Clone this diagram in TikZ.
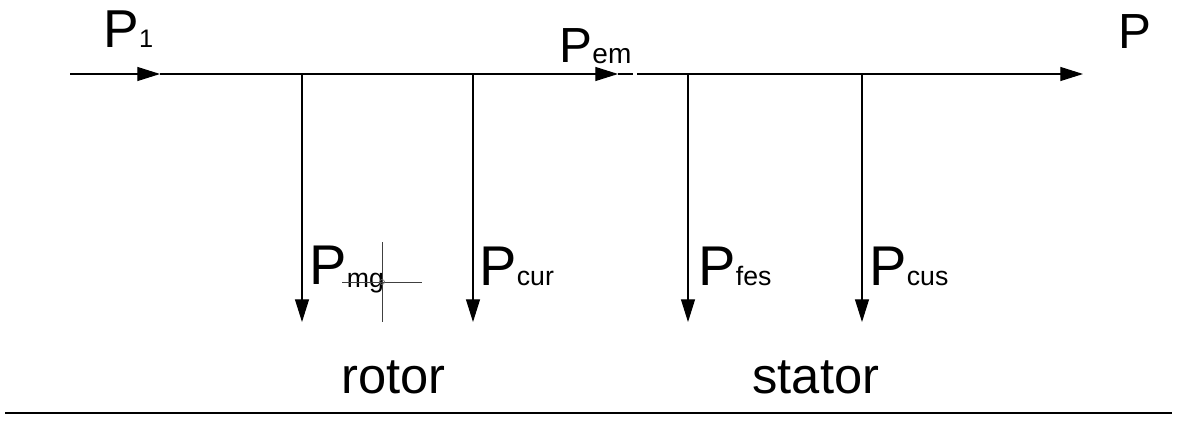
\documentclass[tikz,border=0pt]{standalone}
\usepackage{fontspec}
\setmainfont{Liberation Sans}
\usetikzlibrary{arrows.meta}
\newcommand{\pwr}[4][0pt]{{\fontsize{#2}{#2}\selectfont P}\raisebox{-#1}{\fontsize{#3}{#3}\selectfont #4}}

\begin{document}
\begin{tikzpicture}[x=0.75pt, y=-0.75pt, line width=0.8pt,
  flow/.style={-{Triangle[length=17pt, width=10.5pt]}},
  lbl/.style={anchor=base west, inner sep=0pt, text=black},
  word/.style={anchor=base west, inner sep=0pt, font=\fontsize{38}{38}\selectfont}]
  \useasboundingbox (0,0) rectangle (1177,421);
  % main power line
  \coordinate (in) at (70,74);
  \coordinate (a1) at (160,74);
  \coordinate (a2) at (618,74);
  \coordinate (j) at (633,74);
  \coordinate (k) at (637,74);
  \coordinate (out) at (1083,74);
  \draw[flow] (in) -- (a1);
  \draw[flow] (a1) -- (a2);
  \draw (a2) -- (j);
  \draw[flow] (k) -- (out);
  % losses
  \coordinate (t1) at (302,74);  \coordinate (e1) at (302,322);
  \coordinate (t2) at (473,74);  \coordinate (e2) at (473,322);
  \coordinate (t3) at (688,74);  \coordinate (e3) at (688,322);
  \coordinate (t4) at (862,74);  \coordinate (e4) at (862,322);
  \draw[flow] (t1) -- (e1);
  \draw[flow] (t2) -- (e2);
  \draw[flow] (t3) -- (e3);
  \draw[flow] (t4) -- (e4);
  % labels
  \node[lbl] (p1) at (103,47) {\pwr{40}{19}{1}};
  \node[lbl] (pem) at (559,62) {\pwr[1pt]{37}{21}{em}};
  \node[lbl] (pout) at (1118,48) {\pwr{37}{20}{}};
  \node[lbl] (pmg) at (309,284) {\pwr[2.5pt]{42}{20}{mg}};
  \node[lbl] (pcur) at (479,285) {\pwr{42}{20}{cur}};
  \node[lbl] (pfes) at (698,285) {\pwr{42}{20}{fes}};
  \node[lbl] (pcus) at (869,285) {\pwr{42}{20}{cus}};
  \node[word] (rotor) at (341,393) {rotor};
  \node[word] (stator) at (752,393) {stator};
  % cross mark
  \coordinate (cxt) at (382,242);
  \coordinate (cxb) at (382,322);
  \coordinate (cxl) at (342,282);
  \coordinate (cxr) at (422,282);
  \draw[line width=0.6pt, black!75] (cxt) -- (cxb) (cxl) -- (cxr);
  \draw[line width=0.5pt, black!60] (382,282) circle (2.5);
  % bottom rule
  \coordinate (bl) at (5,413);
  \coordinate (br) at (1172,413);
  \draw[line width=1.5pt] (bl) -- (br);
\end{tikzpicture}
\end{document}
